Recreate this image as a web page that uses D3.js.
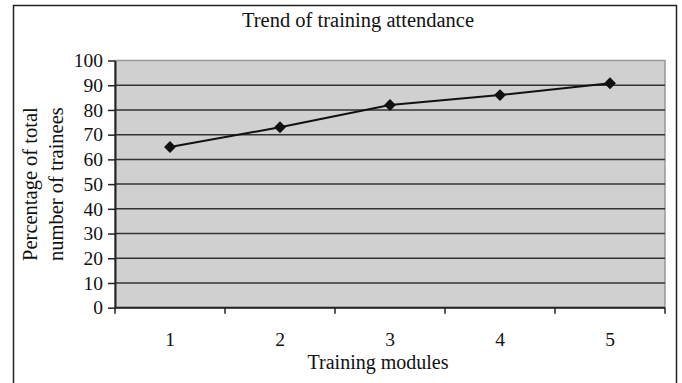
<!DOCTYPE html>
<html>
<head>
<meta charset="utf-8">
<script src="https://cdn.jsdelivr.net/npm/d3@7"></script>
<style>
  body { margin: 0; background: #fff; }
  text { font-family: "Liberation Serif", "Times New Roman", serif; fill: #111; }
</style>
</head>
<body>
<svg id="chart"></svg>
<script>
let modules = [1, 2, 3, 4, 5];
let attendance = [65, 73, 82, 86, 90.8];
let yTicks = [0, 10, 20, 30, 40, 50, 60, 70, 80, 90, 100];

function drawChart() {
    let w = 682, h = 383;
    let m = { left: 115, right: 17, top: 60.5, bottom: 75.3 };
    let serif = '"Liberation Serif", "Times New Roman", serif';

    let svg = d3.select("#chart")
        .attr("width", w)
        .attr("height", h);

    // outer frame
    svg.append("rect")
        .attr("x", 13.5).attr("y", 5.5)
        .attr("width", 663).attr("height", 390)
        .attr("fill", "none")
        .attr("stroke", "#222")
        .attr("stroke-width", 1.5);

    let x = d3.scaleBand()
        .domain(modules)
        .range([m.left, w - m.right]);

    let y = d3.scaleLinear()
        .domain([0, 100])
        .range([h - m.bottom, m.top]);

    // plot background
    svg.append("rect")
        .attr("x", m.left).attr("y", m.top)
        .attr("width", w - m.left - m.right)
        .attr("height", h - m.top - m.bottom)
        .attr("fill", "#d0d0d0")
        .attr("stroke", "#999")
        .attr("stroke-width", 1.5);

    // gridlines
    svg.selectAll(".grid")
        .data(yTicks.slice(1, -1))
        .enter()
        .append("line")
        .attr("x1", m.left).attr("x2", w - m.right)
        .attr("y1", d => y(d)).attr("y2", d => y(d))
        .attr("stroke", "#333")
        .attr("stroke-width", 1.5);

    // y axis
    let yAxis = svg.append("g")
        .attr("transform", `translate(${m.left},0)`)
        .call(d3.axisLeft(y).tickValues(yTicks).tickSize(7).tickPadding(5).tickSizeOuter(0));
    yAxis.attr("font-family", null).attr("font-size", null);
    yAxis.select(".domain").attr("stroke", "#222").attr("stroke-width", 2);
    yAxis.selectAll(".tick line").attr("stroke", "#222").attr("stroke-width", 1.5);
    yAxis.selectAll("text")
        .style("font-family", serif)
        .style("font-size", "19.5px")
        .attr("fill", "#111");

    // x axis with tick marks at band boundaries
    let xAxis = svg.append("g")
        .attr("transform", `translate(0,${h - m.bottom})`);
    xAxis.append("line")
        .attr("x1", m.left).attr("x2", w - m.right)
        .attr("stroke", "#222").attr("stroke-width", 2);
    let bounds = modules.map(d => x(d)).concat([x(modules[modules.length - 1]) + x.bandwidth()]);
    xAxis.selectAll(".xt")
        .data(bounds)
        .enter()
        .append("line")
        .attr("x1", d => d).attr("x2", d => d)
        .attr("y1", 0).attr("y2", 6)
        .attr("stroke", "#222").attr("stroke-width", 1.5);
    xAxis.selectAll(".xl")
        .data(modules)
        .enter()
        .append("text")
        .attr("x", d => x(d) + x.bandwidth() / 2)
        .attr("y", 38)
        .style("font-family", serif)
        .style("font-size", "19.5px")
        .style("text-anchor", "middle")
        .text(d => d);

    // line
    let line = d3.line()
        .x((d, i) => x(modules[i]) + x.bandwidth() / 2)
        .y(d => y(d));
    svg.append("path")
        .datum(attendance)
        .attr("d", line)
        .attr("fill", "none")
        .attr("stroke", "#111")
        .attr("stroke-width", 2);

    // diamond markers
    let diamond = d3.symbol().type(d3.symbolDiamond2).size(90);
    svg.selectAll(".pt")
        .data(attendance)
        .enter()
        .append("path")
        .attr("d", diamond)
        .attr("transform", (d, i) => `translate(${x(modules[i]) + x.bandwidth() / 2},${y(d)})`)
        .attr("fill", "#111");

    // titles
    svg.append("text")
        .attr("x", 358).attr("y", 27)
        .style("font-size", "20.5px")
        .style("text-anchor", "middle")
        .text("Trend of training attendance");

    svg.append("text")
        .attr("x", 378).attr("y", 369)
        .style("font-size", "20px")
        .style("text-anchor", "middle")
        .text("Training modules");

    let yt = svg.append("text")
        .attr("transform", `translate(37,${(m.top + h - m.bottom) / 2}) rotate(-90)`)
        .style("font-size", "20.5px")
        .style("text-anchor", "middle");
    yt.append("tspan").attr("x", 0).attr("dy", 0).text("Percentage of total");
    yt.append("tspan").attr("x", 0).attr("dy", 26).text("number of trainees");
}

window.onload = function() {
    drawChart();
}
</script>
</body>
</html>
